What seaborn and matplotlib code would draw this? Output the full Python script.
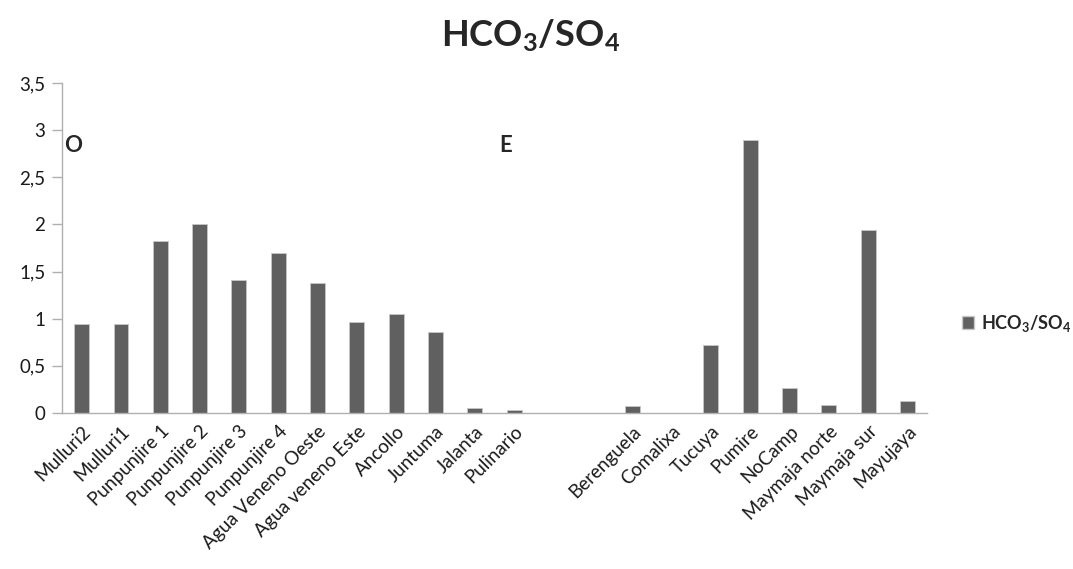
import numpy as np
import pandas as pd
import matplotlib
matplotlib.use("Agg")
import matplotlib.pyplot as plt
import seaborn as sns
from matplotlib.patches import Patch

categories = ["Mulluri2", "Mulluri1", "Punpunjire 1", "Punpunjire 2", "Punpunjire 3",
              "Punpunjire 4", "Agua Veneno Oeste", "Agua veneno Este", "Ancollo",
              "Juntuma", "Jalanta", "Pulinario", " ", "  ", "Berenguela", "Comalixa",
              "Tucuya", "Pumire", "NoCamp", "Maymaja norte", "Maymaja sur", "Mayujaya"]
values = [0.94, 0.94, 1.82, 2.01, 1.41, 1.70, 1.38, 0.97, 1.05, 0.86, 0.05, 0.03,
          np.nan, np.nan, 0.07, 0.0, 0.72, 2.90, 0.26, 0.08, 1.94, 0.13]
yticks = [0, 0.5, 1, 1.5, 2, 2.5, 3, 3.5]
ytick_labels = ["0", "0,5", "1", "1,5", "2", "2,5", "3", "3,5"]
series_name = r"$\mathbf{HCO_3/SO_4}$"

sns.set_style("white")
plt.rcParams["font.family"] = ["Lato", "DejaVu Sans"]
plt.rcParams["mathtext.fontset"] = "custom"
plt.rcParams["mathtext.bf"] = "Lato:bold"
plt.rcParams["mathtext.rm"] = "Lato"

df = pd.DataFrame({"cat": categories, "val": values})

fig = plt.figure(figsize=(10.73, 5.69), dpi=100)
ax = fig.add_axes([0.0578, 0.2742, 0.8062, 0.5798])

bar_color = "#606060"
sns.barplot(data=df, x="cat", y="val", ax=ax, color=bar_color, width=0.38,
            saturation=1, edgecolor="#c8c8c8", linewidth=0.6, errorbar=None)

ax.set_ylim(0, 3.5)
ax.set_xlim(-0.5, len(categories) - 0.5)
ax.set_yticks(yticks)
ax.set_yticklabels(ytick_labels, fontsize=13.5, color="#1a1a1a")
ax.set_xlabel("")
ax.set_ylabel("")

ax.set_xticks(range(len(categories)))
ax.set_xticklabels(categories, rotation=45, ha="right", rotation_mode="anchor",
                   fontsize=13.5, color="#1a1a1a")
ax.set_xticks(np.arange(-0.5, len(categories), 1), minor=True)
ax.tick_params(axis="x", which="major", length=0, pad=7)
ax.tick_params(axis="x", which="minor", length=7, color="#b0b0b0", width=1)
ax.tick_params(axis="y", which="major", length=7, color="#b0b0b0", width=1, left=True, pad=5)

for s in ["top", "right"]:
    ax.spines[s].set_visible(False)
for s in ["left", "bottom"]:
    ax.spines[s].set_color("#b0b0b0")
    ax.spines[s].set_linewidth(1)

fig.text(0.494, 0.937, series_name, fontsize=26, ha="center", va="center")
fig.text(0.060, 0.745, "O", fontsize=16, fontweight="bold", va="center")
fig.text(0.465, 0.745, "E", fontsize=16, fontweight="bold", va="center")

handle = Patch(facecolor=bar_color, edgecolor="#c8c8c8", label=series_name)
fig.legend(handles=[handle], loc="center left", bbox_to_anchor=(0.881, 0.432),
           frameon=False, fontsize=13, handlelength=0.7, handleheight=0.7,
           handletextpad=0.4)

fig.savefig("out.png", dpi=100)
